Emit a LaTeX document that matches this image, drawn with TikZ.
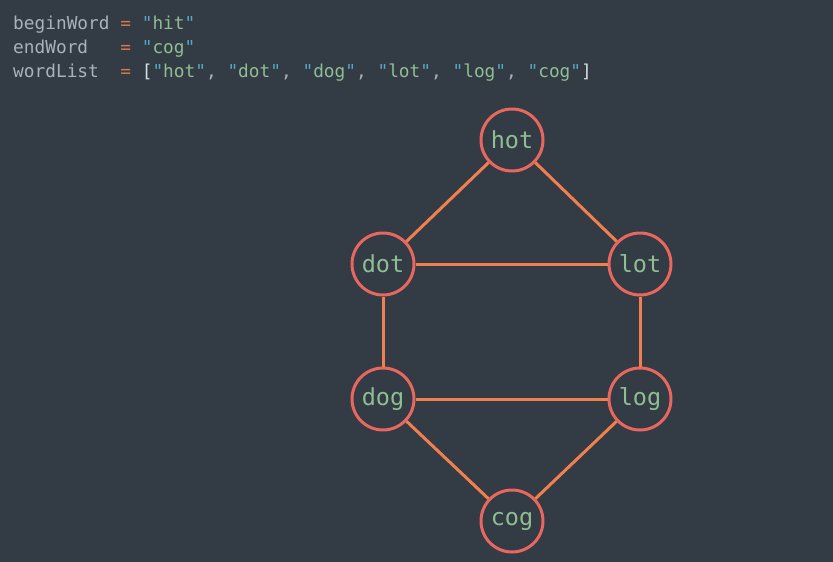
\documentclass[tikz,border=0pt]{standalone}
\usepackage{fontspec}
\setmonofont{DejaVu Sans Mono}
\usepackage{xcolor}
\usepackage{tikz}
\usetikzlibrary{positioning}

\definecolor{bgcol}{HTML}{333B45}
\definecolor{ringcol}{HTML}{E8675E}
\definecolor{edgecol}{HTML}{F2804F}
\definecolor{wordcol}{HTML}{8EBE92}
\definecolor{idcol}{HTML}{A9B1BA}
\definecolor{opcol}{HTML}{D9784F}
\definecolor{quotecol}{HTML}{56A9C6}
\definecolor{brcol}{HTML}{D8DDE2}

\newcommand{\qword}[1]{\textcolor{quotecol}{"}\textcolor{wordcol}{#1}\textcolor{quotecol}{"}}
\newcommand{\eqsign}{\textcolor{opcol}{=}}

\tikzset{
	word/.style={circle,draw=ringcol,line width=3pt,minimum size=62pt,inner sep=0pt,
		text=wordcol,font=\ttfamily\fontsize{23.5}{28}\selectfont},
	link/.style={draw=edgecol,line width=3pt},
	codeline/.style={anchor=base west,inner sep=0pt,text=idcol,
		font=\ttfamily\fontsize{17.8}{24}\selectfont}
}

\begin{document}
\begin{tikzpicture}[x=1pt,y=-1pt]
	\fill[bgcol] (0,0) rectangle (833,562);
	\useasboundingbox (0,0) rectangle (833,562);
	
	% the input
	\node[codeline] (l1) at (13,29) {beginWord\ \eqsign\ \qword{hit}};
	\node[codeline] (l2) at (13,53) {endWord\ \ \ \eqsign\ \qword{cog}};
	\node[codeline] (l3) at (13,77) {wordList\ \ \eqsign\ \textcolor{brcol}{[}\qword{hot}, \qword{dot}, \qword{dog}, \qword{lot}, \qword{log}, \qword{cog}\textcolor{brcol}{]}};
	
	% the graph
	\node[word] (hot) at (512,140) {hot};
	\node[word] (dot) at (383,264) {dot};
	\node[word] (lot) at (640,264) {lot};
	\node[word] (dog) at (383,399) {dog};
	\node[word] (log) at (640,399) {log};
	\node[word] (cog) at (512,521) {cog};
	
	\foreach \a/\b in {hot/dot,hot/lot,dot/lot,dot/dog,lot/log,dog/log,dog/cog,log/cog}
		\draw[link] (\a) -- (\b);
	
\end{tikzpicture}
\end{document}
